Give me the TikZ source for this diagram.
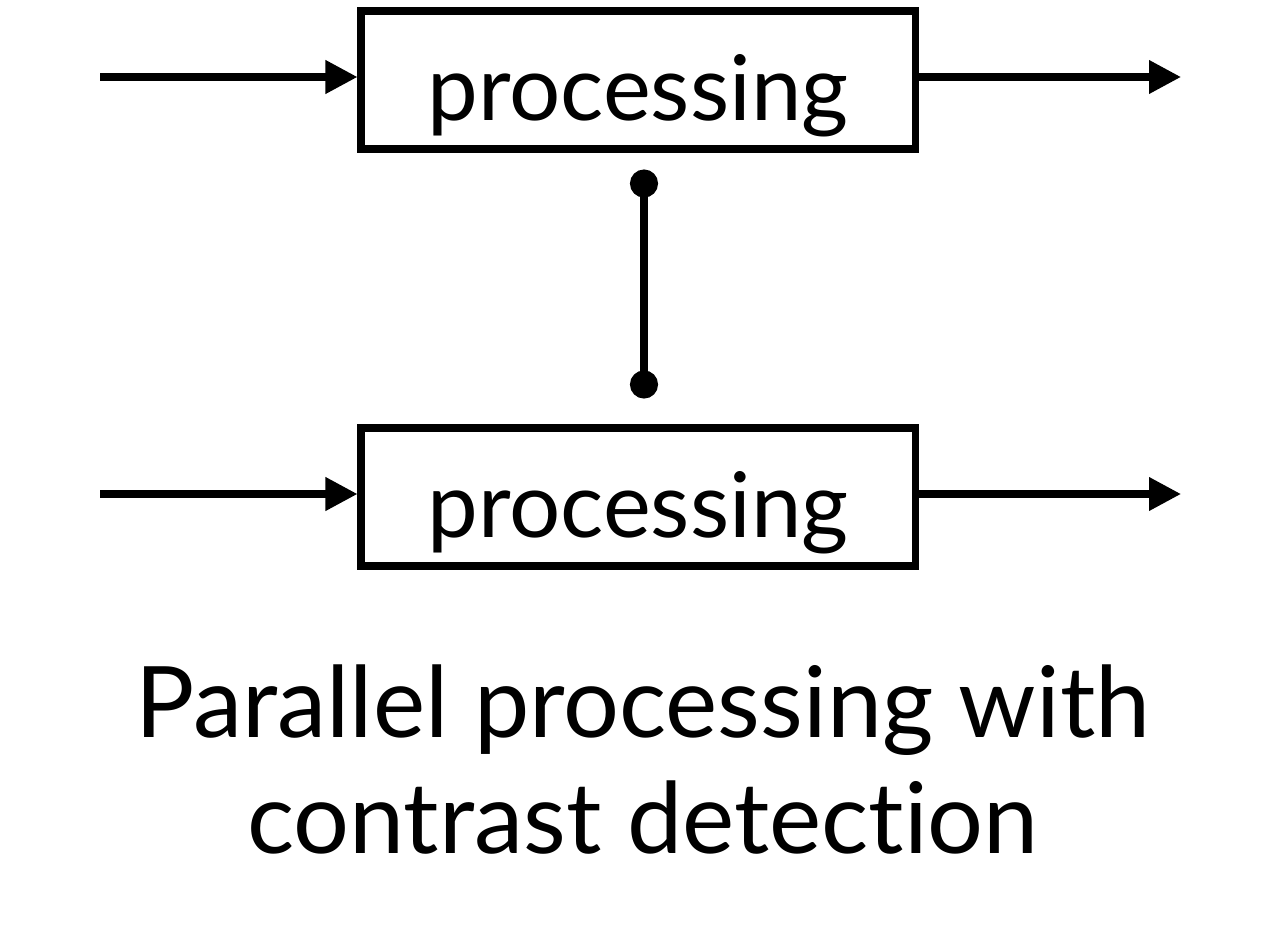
\documentclass[tikz,border=0pt]{standalone}
\usepackage{fontspec}
\setmainfont{Lato}[Ligatures=NoCommon]
\usetikzlibrary{arrows.meta,positioning}

\tikzset{
  procbox/.style={draw, line width=4pt, minimum width=11.08cm, minimum height=2.76cm,
    inner sep=0pt, text height=1.6cm, text depth=0pt, font=\fontsize{51.5}{56}\selectfont},
  flow/.style={line width=4pt, -{Triangle[length=0.64cm,width=0.64cm]}},
  link/.style={line width=4pt, {Circle[length=0.56cm]}-{Circle[length=0.56cm]}},
}

\begin{document}
\begin{tikzpicture}
  \useasboundingbox (0,0) rectangle (25.76,-18.88);

  \node[procbox] (top) at (12.76,-1.6) {processing};
  \node[procbox] (bot) at (12.76,-9.94) {processing};

  \coordinate (topin)  at (2,-1.54);
  \coordinate (topout) at (23.62,-1.54);
  \coordinate (botin)  at (2,-9.88);
  \coordinate (botout) at (23.62,-9.88);

  \draw[flow] (topin) -- (topin -| top.west);
  \draw[flow] (top.east |- topout) -- (topout);
  \draw[flow] (botin) -- (botin -| bot.west);
  \draw[flow] (bot.east |- botout) -- (botout);

  \draw[link] ([shift={(0.12,-0.34)}]top.south) -- ([shift={(0.12,0.52)}]bot.north);

  \node[align=center, font=\fontsize{56.2}{66}\selectfont] (caption) at (12.86,-15.2)
    {Parallel processing with\\contrast detection};
\end{tikzpicture}
\end{document}
